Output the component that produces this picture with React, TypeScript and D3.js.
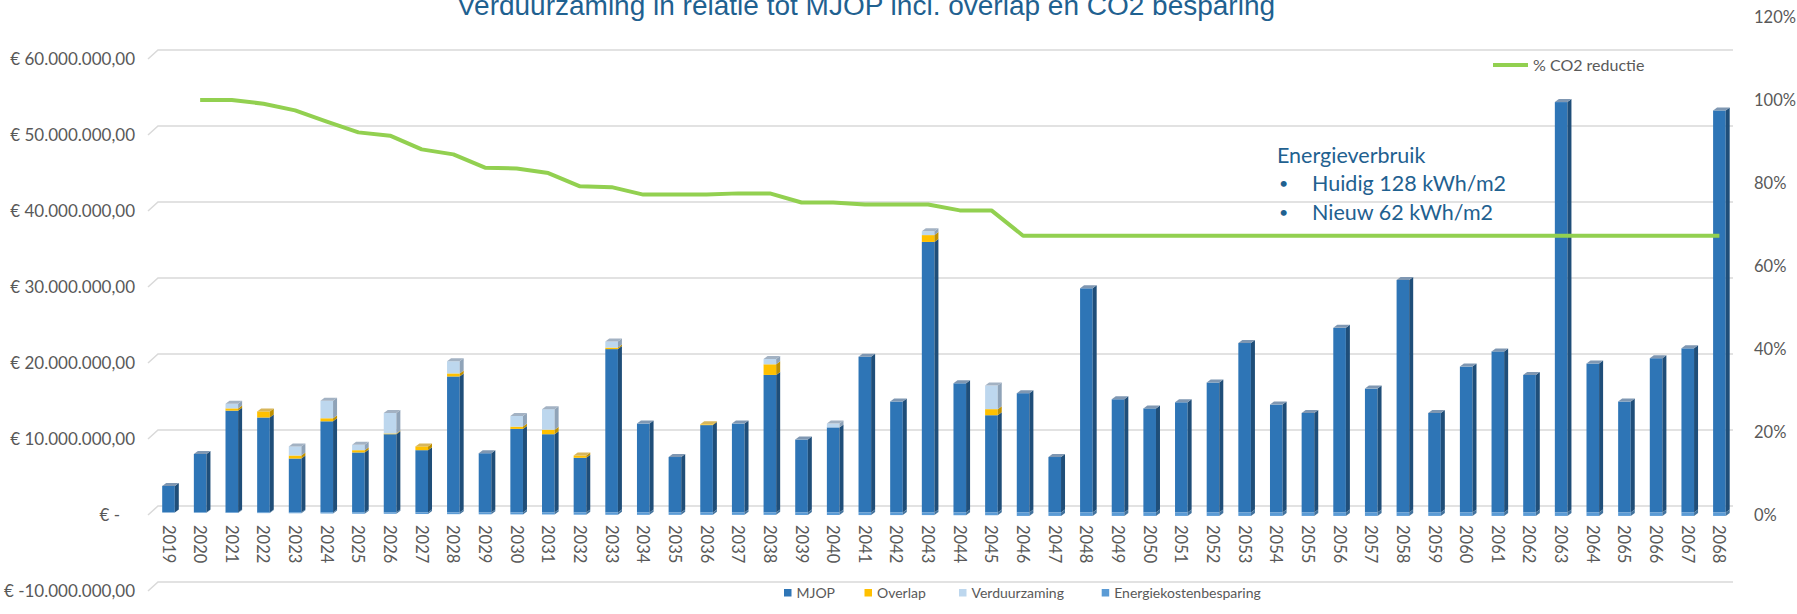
import React from "react";
import * as d3 from "d3";

// categories
const years = [
  "2019", "2020", "2021", "2022", "2023", "2024", "2025", "2026", "2027", "2028",
  "2029", "2030", "2031", "2032", "2033", "2034", "2035", "2036", "2037", "2038",
  "2039", "2040", "2041", "2042", "2043", "2044", "2045", "2046", "2047", "2048",
  "2049", "2050", "2051", "2052", "2053", "2054", "2055", "2056", "2057", "2058",
  "2059", "2060", "2061", "2062", "2063", "2064", "2065", "2066", "2067", "2068",
];

// bedragen in miljoenen euro
const mjop = [
  3.5, 7.7, 13.4, 12.5, 7.1, 12.0, 7.9, 10.3, 8.2, 17.9,
  7.8, 11.0, 10.3, 7.2, 21.5, 11.7, 7.3, 11.5, 11.7, 18.1,
  9.6, 11.2, 20.5, 14.6, 35.6, 17.0, 12.8, 15.7, 7.3, 29.5,
  14.9, 13.7, 14.5, 17.1, 22.3, 14.2, 13.1, 24.3, 16.3, 30.6,
  13.1, 19.2, 21.2, 18.1, 54.0, 19.6, 14.6, 20.3, 21.6, 52.9,
];
const overlap = [
  0, 0, 0.3, 0.8, 0.4, 0.4, 0.3, 0.1, 0.5, 0.4,
  0, 0.3, 0.6, 0.3, 0.2, 0, 0, 0.1, 0, 1.4,
  0, 0, 0, 0, 0.9, 0, 0.8, 0, 0, 0,
  0, 0, 0, 0, 0, 0, 0, 0, 0, 0,
  0, 0, 0, 0, 0, 0, 0, 0, 0, 0,
];
const verduurzaming = [
  0, 0, 0.6, 0, 1.2, 2.3, 0.7, 2.7, 0, 1.6,
  0, 1.4, 2.7, 0, 0.8, 0, 0, 0, 0, 0.7,
  0, 0.5, 0, 0, 0.5, 0, 3.1, 0, 0, 0,
  0, 0, 0, 0, 0, 0, 0, 0, 0, 0,
  0, 0, 0, 0, 0, 0, 0, 0, 0, 0,
];
const energiekostenbesparing = [
  0, -0.03, -0.06, -0.08, -0.1, -0.13, -0.16, -0.17, -0.2, -0.22,
  -0.24, -0.25, -0.26, -0.29, -0.3, -0.31, -0.31, -0.31, -0.31, -0.31,
  -0.33, -0.33, -0.34, -0.34, -0.34, -0.36, -0.36, -0.45, -0.45, -0.45,
  -0.45, -0.45, -0.45, -0.45, -0.45, -0.45, -0.45, -0.45, -0.45, -0.45,
  -0.45, -0.45, -0.45, -0.45, -0.45, -0.45, -0.45, -0.45, -0.45, -0.45,
];
// % CO2 reductie
const co2Reductie = [
  null, 100, 100, 99.1, 97.5, 94.8, 92.2, 91.4, 88.1, 86.9,
  83.7, 83.5, 82.4, 79.2, 79.0, 77.2, 77.2, 77.2, 77.5, 77.5,
  75.3, 75.3, 74.8, 74.8, 74.8, 73.4, 73.4, 67.3, 67.3, 67.3,
  67.3, 67.3, 67.3, 67.3, 67.3, 67.3, 67.3, 67.3, 67.3, 67.3,
  67.3, 67.3, 67.3, 67.3, 67.3, 67.3, 67.3, 67.3, 67.3, 67.3,
];

const leftTicks = [-10, 0, 10, 20, 30, 40, 50, 60];
const rightTicks = [0, 20, 40, 60, 80, 100, 120];

const seriesKeys = ["mjop", "overlap", "verduurzaming", "energiekostenbesparing"];
const seriesNames = ["MJOP", "Overlap", "Verduurzaming", "Energiekostenbesparing"];
const front = ["#2E75B6", "#FFC000", "#BDD7EE", "#5B9BD5"];
const side = ["#1F4E79", "#BF9000", "#8FA3B8", "#41719C"];
const cap = ["#7F97B2", "#D8B65A", "#A3B2C3", "#7FA6CC"];

const W = 1797;
const H = 614;
const font = "Lato, 'Noto Sans', sans-serif";
const grey = "#595959";
const blueText = "#1F6190";

const nl = d3.formatLocale({ decimal: ",", thousands: ".", grouping: [3], currency: ["€", ""] });
const fmt = nl.format(",.2f");
const euro = (v: number) => (v === 0 ? "€ -" : `€ ${v < 0 ? "-" : ""}${fmt(Math.abs(v) * 1e6)}`);

const App = () => {
  const x = d3.scalePoint().domain(years).range([168.5, 1719.4]);
  const yL = d3.scaleLinear().domain([-10, 60]).range([591, 59]);
  const yB = (v: number) => yL(v) - 2.5;
  const yR = d3.scaleLinear().domain([0, 120]).range([515, 17]);
  const backDx = 10;
  const backDy = -9;
  const half = 6.3;
  const sdx = 4;
  const sdy = -3;

  const rows = years.map((year, i) => ({
    year,
    mjop: mjop[i],
    overlap: overlap[i],
    verduurzaming: verduurzaming[i],
    energiekostenbesparing: energiekostenbesparing[i],
  }));
  const stacked = d3.stack().keys(seriesKeys).offset(d3.stackOffsetDiverging)(rows as any);

  const line = d3
    .line<number | null>()
    .defined(d => d != null)
    .x((d, i) => x(years[i]) as number)
    .y(d => yR(d as number));

  // bovenste segment per jaar (voor het dakje)
  const topIdx = years.map((_, i) => {
    let t = -1;
    stacked.forEach((s, k) => {
      if (s[i][1] > s[i][0] && s[i][0] >= 0) t = k;
    });
    return t;
  });

  return (
    <svg width={W} height={H} style={{ position: "absolute", left: 0, top: 0, display: "block", background: "#fff" }}>
      <text x={866} y={15} textAnchor="middle" fontFamily="'Liberation Sans', Arial, sans-serif" fontSize={28} fill={blueText}>
        Verduurzaming in relatie tot MJOP incl. overlap en CO2 besparing
      </text>

      {leftTicks.map(t => (
        <g key={t}>
          <path
            d={`M148,${yL(t)}L${148 + backDx},${yL(t) + backDy}L1733,${yL(t) + backDy}`}
            fill="none"
            stroke="#D9D9D9"
            strokeWidth={1.5}
          />
          <text x={t === 0 ? 120 : 135} y={yL(t)} dy="0.35em" textAnchor="end" fontFamily={font} fontSize={17} fill={grey}>
            {euro(t)}
          </text>
        </g>
      ))}

      {rightTicks.map(t => (
        <text key={t} x={1754} y={yR(t)} dy="0.35em" fontFamily={font} fontSize={16.5} fill={grey}>
          {t}%
        </text>
      ))}

      {stacked.map((s, k) => (
        <g key={seriesKeys[k]}>
          {s.map((d, i) => {
            const lo = Math.min(d[0], d[1]);
            const hi = Math.max(d[0], d[1]);
            if (hi - lo <= 0) return null;
            const cx = x(years[i]) as number;
            const yt = yB(hi);
            const yb = yB(lo);
            return (
              <g key={i}>
                <rect x={cx - half} y={yt} width={half * 2} height={yb - yt} fill={front[k]} />
                <path
                  d={`M${cx + half},${yt}L${cx + half + sdx},${yt + sdy}L${cx + half + sdx},${yb + sdy}L${cx + half},${yb}Z`}
                  fill={side[k]}
                />
                {topIdx[i] === k && (
                  <path
                    d={`M${cx - half},${yt}L${cx - half + sdx},${yt + sdy}L${cx + half + sdx},${yt + sdy}L${cx + half},${yt}Z`}
                    fill={cap[k]}
                  />
                )}
              </g>
            );
          })}
        </g>
      ))}

      {years.map(yr => (
        <text
          key={yr}
          transform={`translate(${x(yr)},525) rotate(90)`}
          dominantBaseline="central"
          fontFamily={font}
          fontSize={16.5}
          fill={grey}
        >
          {yr}
        </text>
      ))}

      <path d={line(co2Reductie) || ""} fill="none" stroke="#92D050" strokeWidth={4} strokeLinejoin="round" />

      <line x1={1493} x2={1528} y1={65} y2={65} stroke="#92D050" strokeWidth={4} />
      <text x={1533} y={65} dy="0.35em" fontFamily={font} fontSize={16} fill={grey}>
        % CO2 reductie
      </text>

      {seriesNames.map((n, k) => {
        const lx = [784, 864.5, 959, 1101.7][k];
        return (
          <g key={n}>
            <rect x={lx} y={589} width={7.5} height={7.5} fill={front[k]} />
            <text x={lx + 12.5} y={593} dy="0.35em" fontFamily={font} fontSize={14} fill={grey}>
              {n}
            </text>
          </g>
        );
      })}

      <g fontFamily={font} fontSize={21.5} fill={blueText}>
        <text x={1277} y={155} dy="0.35em">Energieverbruik</text>
        <text x={1279} y={183} dy="0.35em" fontSize={16}>•</text>
        <text x={1312} y={183} dy="0.35em">Huidig 128 kWh/m2</text>
        <text x={1279} y={212} dy="0.35em" fontSize={16}>•</text>
        <text x={1312} y={212} dy="0.35em">Nieuw 62 kWh/m2</text>
      </g>
    </svg>
  );
};

export default App;
